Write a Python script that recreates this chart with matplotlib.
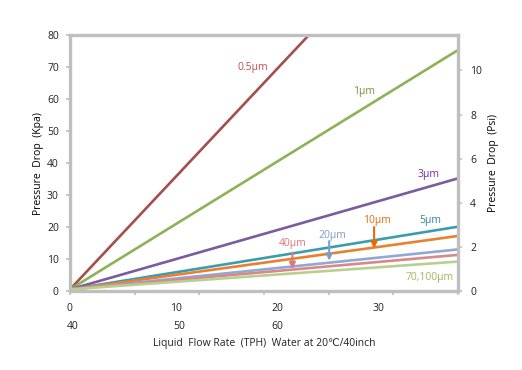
import numpy as np
import matplotlib.pyplot as plt

plt.rcParams['font.family'] = ['Open Sans', 'DejaVu Sans']
plt.rcParams['font.size'] = 7.5

# flow rate range (TPH) and pressure drop (kPa) at start / end of each line
flow = [0, 38]
series = ["0.5μm", "1μm", "3μm", "5μm", "10μm", "20μm", "40μm", "70,100μm"]
start_kpa = [0.5, 0.5, 0.5, 0.5, 0.5, 0.5, 0.5, 0.5]
end_kpa = [129.6, 75.3, 35.2, 20.1, 17.2, 13.0, 11.3, 9.2]
line_colors = ["#A24F4D", "#8DB255", "#7B5B9E", "#3A9DAF",
               "#E8802E", "#8FA8D4", "#D8888A", "#B8D08F"]
label_colors = ["#C0504D", "#76923C", "#7030A0", "#31859C",
                "#E46C0A", "#7F9CC9", "#D9797B", "#9BBB59"]
# label anchor positions (flow, kPa)
label_x = [17.9, 28.8, 35.1, 35.3, 30.1, 25.7, 21.8, 35.2]
label_y = [70.0, 62.5, 36.3, 22.2, 22.2, 17.2, 15.0, 4.1]
# arrows for the crowded labels: (x, y_from, y_to)
arrow_names = ["10μm", "20μm", "40μm"]
arrow_x = [29.8, 25.4, 21.8]
arrow_from = [20.0, 15.6, 12.0]
arrow_to = [13.3, 9.5, 6.9]

bottom_row1 = ["0", "10", "20", "30"]
bottom_row1_x = [-0.3, 9.8, 19.7, 29.6]
bottom_row2 = ["40", "50", "60"]
bottom_row2_x = [-0.3, 10.1, 19.7]

KPA_PER_PSI = 6.895
frame = "#BFBFBF"

fig = plt.figure(figsize=(5.22, 3.70), dpi=100)
ax = fig.add_axes([0.134, 0.2135, 0.743, 0.6915])

for name, y0, y1, c in zip(series, start_kpa, end_kpa, line_colors):
    ax.plot(flow, [y0, y1], color=c, linewidth=1.9, solid_capstyle="butt")

ax.set_xlim(0, 38)
ax.set_ylim(0, 80)
ax.set_yticks(np.arange(0, 81, 10))
ax.set_xticks(np.linspace(0, 38, 7))
ax.set_xticklabels([])
for s in ax.spines.values():
    s.set_color(frame)
    s.set_linewidth(2.4)
ax.tick_params(color=frame, width=1.2, length=3, labelcolor="#222222")
ax.tick_params(axis="y", pad=5)
ax.set_ylabel("Pressure  Drop  (Kpa)", labelpad=2)

ax2 = ax.twinx()
ax2.set_ylim(0, 80 / KPA_PER_PSI)
ax2.set_yticks(np.arange(0, 11, 2))
for s in ax2.spines.values():
    s.set_visible(False)
ax2.tick_params(color=frame, width=1.2, length=3, labelcolor="#222222", pad=6)
ax2.set_ylabel("Pressure  Drop  (Psi)", labelpad=4)

for name, x, y, c in zip(series, label_x, label_y, label_colors):
    ax.text(x, y, name, color=c, ha="center", va="center")

for name, x, y0, y1 in zip(arrow_names, arrow_x, arrow_from, arrow_to):
    c = label_colors[series.index(name)]
    ax.annotate("", xy=(x, y1), xytext=(x, y0),
                arrowprops=dict(arrowstyle="-|>", color=c, lw=1.5,
                                mutation_scale=9, shrinkA=0, shrinkB=0))

tr = ax.get_xaxis_transform()
for lab, x in zip(bottom_row1, bottom_row1_x):
    ax.text(x, -0.07, lab, transform=tr, ha="left", va="center", color="#222222")
for lab, x in zip(bottom_row2, bottom_row2_x):
    ax.text(x, -0.14, lab, transform=tr, ha="left", va="center", color="#222222")
ax.text(0.5, -0.207, "Liquid  Flow Rate  (TPH)  Water at 20℃/40inch",
        transform=ax.transAxes, ha="center", va="center", color="#222222")

fig.savefig("out.png", dpi=100)
